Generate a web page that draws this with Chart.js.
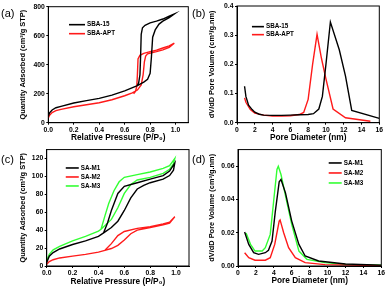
<!DOCTYPE html>
<html>
<head>
<meta charset="utf-8">
<script src="https://cdn.jsdelivr.net/npm/chart.js@4.4.0/dist/chart.umd.min.js"></script>
<style>
  body { margin: 0; background: #fff; width: 387px; height: 289px; position: relative; overflow: hidden; font-family: "Liberation Sans", Arial, sans-serif; }
  canvas { position: absolute; }
  .lab { position: absolute; font-size: 11px; line-height: 11px; color: #000; }
</style>
</head>
<body>
<canvas id="ca" width="193" height="144" style="left:0;top:0"></canvas>
<canvas id="cb" width="194" height="144" style="left:193px;top:0"></canvas>
<canvas id="cc" width="193" height="145" style="left:0;top:144px"></canvas>
<canvas id="cd" width="194" height="145" style="left:193px;top:144px"></canvas>
<div class="lab" style="left:1px;top:8px">(a)</div>
<div class="lab" style="left:192px;top:8px">(b)</div>
<div class="lab" style="left:1px;top:154px">(c)</div>
<div class="lab" style="left:192px;top:154px">(d)</div>
<script>
// (a) N2 isotherms: adsorption branch then desorption branch
const sba15P = [0, 0.01, 0.03, 0.06, 0.1, 0.2, 0.3, 0.4, 0.5, 0.6, 0.7, 0.75, 0.78, 0.8, 0.81, 0.82, 0.84, 0.87, 0.9, 0.95, 0.99,
                0.95, 0.9, 0.85, 0.8, 0.76, 0.74, 0.73, 0.725, 0.72, 0.71, 0.7];
const sba15Q = [45, 68, 88, 103, 113, 136, 152, 168, 190, 220, 255, 280, 300, 340, 450, 590, 640, 680, 700, 725, 750,
                735, 715, 700, 688, 672, 655, 610, 450, 330, 275, 258];
const sbaAptP = [0, 0.01, 0.03, 0.06, 0.1, 0.2, 0.3, 0.4, 0.5, 0.6, 0.66, 0.7, 0.73, 0.745, 0.755, 0.765, 0.78, 0.85, 0.9, 0.95, 0.99,
                 0.95, 0.9, 0.85, 0.8, 0.75, 0.72, 0.705, 0.7, 0.695, 0.685, 0.67];
const sbaAptQ = [32, 52, 70, 83, 92, 110, 124, 138, 158, 186, 205, 225, 260, 330, 420, 460, 475, 490, 502, 520, 548,
                 530, 515, 500, 490, 478, 465, 440, 330, 250, 215, 200];

// (b) pore size distributions
const sba15D = [0.85, 1.0, 1.3, 1.7, 2.0, 2.5, 3.0, 4.0, 5.0, 6.0, 7.0, 8.0, 8.6, 9.2, 9.6, 10.0, 10.5, 11.5, 12.2, 12.9, 16.0];
const sba15V = [0.125, 0.09, 0.06, 0.045, 0.036, 0.029, 0.026, 0.025, 0.025, 0.026, 0.027, 0.028, 0.031, 0.047, 0.09, 0.2, 0.345, 0.25, 0.16, 0.042, 0.015];
const sbaAptD = [0.85, 1.0, 1.5, 2.0, 3.0, 4.0, 5.0, 6.0, 7.0, 7.5, 8.0, 8.5, 9.0, 9.5, 10.0, 10.8, 12.2, 15.0];
const sbaAptV = [0.085, 0.07, 0.045, 0.033, 0.026, 0.023, 0.023, 0.024, 0.028, 0.035, 0.08, 0.2, 0.303, 0.22, 0.15, 0.047, 0.017, 0.005];

// (c) isotherms of SA-M samples
const m1P = [0, 0.02, 0.05, 0.1, 0.2, 0.3, 0.4, 0.44, 0.5, 0.55, 0.6, 0.65, 0.7, 0.75, 0.8, 0.9, 0.95, 0.98, 0.99,
             0.95, 0.9, 0.8, 0.7, 0.6, 0.55, 0.5, 0.47, 0.44];
const m1Q = [4, 11, 15, 19, 24, 28, 33, 37, 43, 50, 62, 76, 86, 90, 93, 97, 101, 107, 115,
             106, 101, 97, 93, 89, 81, 62, 48, 37];
const m2P = [0, 0.02, 0.05, 0.1, 0.2, 0.3, 0.4, 0.45, 0.5, 0.55, 0.6, 0.65, 0.7, 0.8, 0.9, 0.95, 0.99,
             0.95, 0.9, 0.8, 0.7, 0.6, 0.55, 0.5, 0.45];
const m2Q = [2, 5, 7, 9, 11, 13, 15.5, 17.5, 19.5, 23, 29, 36, 40, 43, 46, 48, 55,
             49, 47, 44, 42, 38.5, 34, 25, 17.5];
const m3P = [0, 0.02, 0.05, 0.1, 0.2, 0.3, 0.4, 0.42, 0.5, 0.55, 0.6, 0.65, 0.7, 0.8, 0.9, 0.95, 0.98, 0.99,
             0.95, 0.9, 0.8, 0.7, 0.6, 0.56, 0.52, 0.48, 0.45, 0.42];
const m3Q = [6, 13, 18, 22, 28, 33, 39, 41, 52, 65, 81, 91, 96, 99, 103.5, 108, 114, 120,
             112, 109, 105, 102, 99, 94, 84, 70, 56, 41];

// (d) pore size distributions of SA-M samples
const m1D = [0.74, 1.2, 1.75, 2.3, 3.05, 3.4, 3.8, 4.16, 4.6, 4.8, 5.3, 6.0, 6.8, 7.5, 9.0, 12.0, 16.0];
const m1V = [0.0204, 0.013, 0.008, 0.007, 0.008, 0.0094, 0.015, 0.0325, 0.0506, 0.052, 0.044, 0.027, 0.013, 0.006, 0.003, 0.0012, 0.0005];
const m2D = [0.74, 1.2, 1.9, 3.05, 3.6, 4.1, 4.6, 4.7, 5.1, 5.65, 6.4, 7.5, 9.7, 16.0];
const m2V = [0.008, 0.005, 0.0035, 0.0035, 0.005, 0.013, 0.027, 0.0277, 0.02, 0.011, 0.005, 0.002, 0.0008, 0.0002];
const m3D = [0.9, 1.4, 1.9, 2.7, 3.05, 3.6, 4.0, 4.35, 4.5, 4.8, 5.45, 6.0, 6.8, 7.7, 9.7, 12.0, 16.0];
const m3V = [0.0198, 0.013, 0.009, 0.009, 0.011, 0.019, 0.04, 0.058, 0.06, 0.055, 0.0385, 0.025, 0.009, 0.004, 0.002, 0.001, 0.0005];

const isoTicksX = [0, 0.2, 0.4, 0.6, 0.8, 1.0];
const aTicksY = [0, 200, 400, 600, 800];
const psdTicksX = [0, 2, 4, 6, 8, 10, 12, 14, 16];
const bTicksY = [0, 0.1, 0.2, 0.3, 0.4];
const cTicksY = [0, 20, 40, 60, 80, 100, 120];
const dTicksY = [0, 0.02, 0.04, 0.06];

const BLACK = '#000000', RED = '#ff1a1a', GREEN = '#33ff33';
const FONT = '"Liberation Sans", Arial, sans-serif';

function zip(xs, ys) {
  return xs.map((x, i) => ({ x: x, y: ys[i] }));
}

// closed box around the plot area
const frame = {
  id: 'frame',
  afterDraw(chart) {
    const { ctx, chartArea: a } = chart;
    ctx.save();
    ctx.strokeStyle = '#000';
    ctx.lineWidth = 1;
    ctx.strokeRect(a.left, a.top, a.width, a.height);
    ctx.restore();
  }
};

// legend drawn inside the plot area
const inLegend = {
  id: 'inLegend',
  afterDraw(chart, args, opts) {
    const { ctx, chartArea: a } = chart;
    const x = a.left + opts.x * a.width;
    const y = a.top + opts.y * a.height;
    ctx.save();
    ctx.font = 'bold 6.3px ' + FONT;
    ctx.textBaseline = 'middle';
    chart.data.datasets.forEach((ds, i) => {
      const yy = y + i * opts.gap;
      ctx.strokeStyle = ds.borderColor;
      ctx.lineWidth = 1.6;
      ctx.beginPath();
      ctx.moveTo(x, yy);
      ctx.lineTo(x + opts.len, yy);
      ctx.stroke();
      ctx.fillStyle = '#000';
      ctx.fillText(ds.label, x + opts.len + 2, yy);
    });
    ctx.restore();
  }
};

function axis(min, max, ticks, dec, title, horiz, size, tpad) {
  return {
    type: 'linear',
    min: min,
    max: max,
    afterBuildTicks: s => { s.ticks = ticks.map(v => ({ value: v })); },
    afterFit: s => { if (horiz) s.height = size; else s.width = size; },
    ticks: {
      font: { family: FONT, size: 6.8, weight: 'bold' },
      color: '#000',
      padding: horiz ? 1 : 1.5,
      autoSkip: false,
      maxRotation: 0,
      callback: v => v.toFixed(dec)
    },
    grid: { display: true, drawOnChartArea: false, drawTicks: true, tickLength: 2, color: '#000' },
    border: { display: true, color: '#000', width: 1 },
    title: {
      display: true,
      text: title,
      color: '#000',
      font: { family: FONT, size: horiz ? 8.3 : 7.4, weight: 'bold' },
      padding: tpad
    }
  };
}

function panel(id, sets, pad, xAxis, yAxis, leg) {
  return new Chart(document.getElementById(id), {
    type: 'scatter',
    data: {
      datasets: sets.map(s => ({
        label: s.label,
        data: zip(s.x, s.y),
        borderColor: s.color,
        backgroundColor: s.color,
        showLine: true,
        pointRadius: 0,
        borderWidth: 1.4,
        tension: 0
      }))
    },
    options: {
      responsive: false,
      animation: false,
      layout: { padding: pad },
      plugins: { legend: { display: false }, tooltip: { enabled: false }, inLegend: leg },
      scales: { x: xAxis, y: yAxis }
    },
    plugins: [frame, inLegend]
  });
}

const isoX = 'Relative Pressure (P/P\u2080)';
const isoY = 'Quantity Adsorbed (cm\u00b3/g STP)';
const psdX = 'Pore Diameter (nm)';
const psdY = 'dV/dD Pore Volume (cm\u00b3/g.nm)';

panel('ca',
  [{ label: 'SBA-15', x: sba15P, y: sba15Q, color: BLACK },
   { label: 'SBA-APT', x: sbaAptP, y: sbaAptQ, color: RED }],
  { top: 6.7, right: 4.7, left: 0, bottom: 0 },
  axis(0, 1.1, isoTicksX, 1, isoX, true, 21.3, { top: 0, bottom: 1.7 }),
  axis(0, 800, aTicksY, 0, isoY, false, 48.3, { top: 18.5, bottom: 0 }),
  { x: 0.148, y: 0.155, gap: 9, len: 16 });

panel('cb',
  [{ label: 'SBA-15', x: sba15D, y: sba15V, color: BLACK },
   { label: 'SBA-APT', x: sbaAptD, y: sbaAptV, color: RED }],
  { top: 6, right: 7.7, left: 0, bottom: 0 },
  axis(0, 16, psdTicksX, 0, psdX, true, 21.3, { top: 0, bottom: 1.7 }),
  axis(0, 0.4, bTicksY, 1, psdY, false, 44, { top: 15, bottom: 0 }),
  { x: 0.105, y: 0.177, gap: 8, len: 12 });

panel('cc',
  [{ label: 'SA-M1', x: m1P, y: m1Q, color: BLACK },
   { label: 'SA-M2', x: m2P, y: m2Q, color: RED },
   { label: 'SA-M3', x: m3P, y: m3Q, color: GREEN }],
  { top: 3.3, right: 4, left: 0, bottom: 0 },
  axis(0, 1.1, isoTicksX, 1, isoX, true, 23, { top: 0, bottom: 2.7 }),
  axis(0, 130, cTicksY, 0, isoY, false, 46.7, { top: 18.5, bottom: 0 }),
  { x: 0.134, y: 0.158, gap: 9, len: 13 });

panel('cd',
  [{ label: 'SA-M1', x: m1D, y: m1V, color: BLACK },
   { label: 'SA-M2', x: m2D, y: m2V, color: RED },
   { label: 'SA-M3', x: m3D, y: m3V, color: GREEN }],
  { top: 3, right: 5.7, left: 0, bottom: 0 },
  axis(0, 16, psdTicksX, 0, psdX, true, 23, { top: 0, bottom: 3.3 }),
  axis(0, 0.07, dTicksY, 2, psdY, false, 45, { top: 15, bottom: 0 }),
  { x: 0.633, y: 0.115, gap: 10, len: 13 });
</script>
</body>
</html>
